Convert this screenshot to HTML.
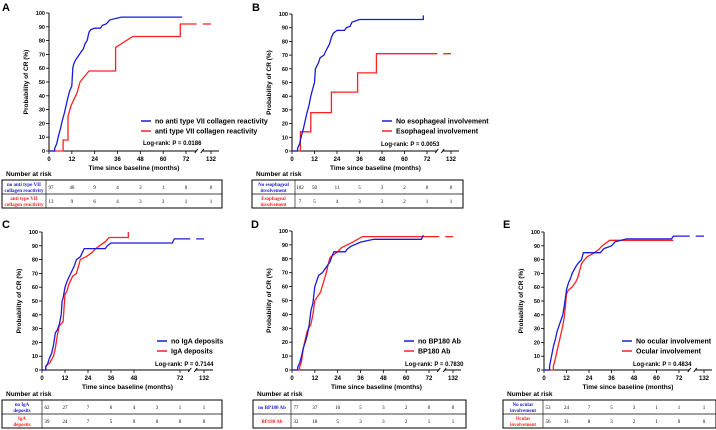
<!DOCTYPE html>
<html><head><meta charset="utf-8"><style>
html,body{margin:0;padding:0;background:#fff;}
svg{display:block;font-family:"Liberation Sans",Arial,sans-serif;}
</style></head><body>
<svg id="fig" width="716" height="430" viewBox="0 0 716 430"></svg>
<script>
const NS="http://www.w3.org/2000/svg";
const svg=document.getElementById('fig');
// ---- data ----
const yTicks=[0,10,20,30,40,50,60,70,80,90,100];
const xTicksFull=[0,12,24,36,48,60,72,132];
const xTicksC=[0,12,24,36,48,72,132];
const riskColsA=["97","46","9","4","3","1","0","0"];
const riskColsA2=["13","9","6","4","3","3","1","1"];
const riskColsB=["102","50","11","5","3","2","0","0"];
const riskColsB2=["7","5","4","3","3","2","1","1"];
const riskColsC=["62","27","7","6","4","3","1","1"];
const riskColsC2=["39","24","7","5","0","0","0","0"];
const riskColsD=["77","37","10","5","3","2","0","0"];
const riskColsD2=["32","18","5","3","3","2","1","1"];
const riskColsE=["53","24","7","5","3","1","1","1"];
const riskColsE2=["56","31","8","3","2","1","0","0"];
const curveA1=[[0,0],[3,0],[3,2],[4,5],[5,11],[6,16],[7,22],[8,27],[9,33],[10,39],[11,44],[12,47],[12.5,60],[13,63],[14,66],[15,68],[17,72],[18,74],[19,78],[20,80],[21,86],[22,88],[24,89],[27,89],[28,91],[30,92],[32,95],[38,97],[70,97]];
const curveA2=[[0,0],[7.4,0],[7.4,8],[10,8],[10,25],[11.6,33],[14.7,42],[16.3,50],[21,58],[35,58],[35,75],[44,83],[69,83],[69,92],[132,92]];
const curveB1=[[0,0],[3,0],[3,2],[4,5],[5,11],[6,16],[7,22],[8,28],[9,33],[10,40],[11,45],[12,50],[12.5,60],[14,64],[15,68],[17,70],[18,73],[20,78],[21,83],[22,86],[24,88],[28,88],[29,90],[31,91],[32,94],[36,96],[70,96],[70,99]];
const curveB2=[[0,0],[4.5,0],[4.5,14],[10,14],[10,28],[21,28],[21,43],[35,43],[35,57],[45,57],[45,71],[132,71]];
const curveC1=[[0,0],[2,0],[2,2],[3,5],[4,9],[5,12],[6,18],[7,27],[8,29],[9,33],[10,40],[10.5,50],[11,52],[12,60],[13,64],[14,67],[15,70],[17,76],[18,80],[20,82],[21,85],[22,88],[33,88],[34,90],[36,92],[68,92],[69,95],[132,95]];
const curveC2=[[0,0],[2,0],[2,3],[4,5],[6,10],[7,16],[8,25],[9,32],[11,35],[12,55],[13,57],[14,62],[16,68],[18,70],[19,75],[20,80],[23,82],[26,85],[28,88],[30,90],[33,93],[35,96],[45,96],[45,100]];
const curveD1=[[0,0],[3,0],[3,2],[4,5],[5,10],[6,16],[7,20],[8,25],[9,32],[10,43],[11,48],[12,60],[13,64],[14,68],[16,70],[17,72],[18,74],[20,78],[21,82],[22,85],[28,85],[29,87],[31,89],[36,92],[43,94],[68,94],[69,97]];
const curveD2=[[0,0],[4,0],[4,2],[5,6],[6,16],[7,22],[8,28],[10,33],[11,40],[12,50],[13,52],[15,56],[17,65],[18,70],[19,76],[20,81],[24,85],[26,88],[32,92],[37,96],[132,96]];
const curveE1=[[0,0],[3,0],[3,3],[4,10],[5,17],[6,22],[7,28],[8,32],[10,40],[11,48],[12,58],[13,63],[14,66],[15,70],[17,75],[18,77],[20,80],[21,85],[30,85],[32,88],[36,90],[38,93],[44,95],[68,95],[69,97],[132,97]];
const curveE2=[[0,0],[5,0],[5,3],[6,8],[7,14],[8,20],[9,26],[10,32],[11,40],[12,55],[13,58],[15,60],[17,64],[18,67],[20,77],[21,79],[23,82],[27,85],[29,87],[31,90],[35,94],[69,94]];

const BLUE="#1a1adb", RED="#ff2020";
function el(tag,attrs,parent){const e=document.createElementNS(NS,tag);for(const k in attrs)e.setAttribute(k,attrs[k]);(parent||svg).appendChild(e);return e;}
function txt(s,x,y,attrs,parent){const t=el('text',Object.assign({x:x,y:y},attrs),parent);t.textContent=s;return t;}

const panels=[
 {id:'a',letter:'A',lx:2,ly:11,x0:49,x72:186,x132:211,xend:219,yT:13,yB:151,ticks:xTicksFull,c1:curveA1,c2:curveA2,
  leg1:"no anti type VII collagen reactivity",leg2:"anti type VII collagen reactivity",legX:141,legY:121,lr:"Log-rank: P = 0.0186",lrX:143,lrY:145,
  tx:2,tw:220,ty:180,lab1:["no anti type VII","collagen reactivity"],lab2:["anti type VII","collagen reactivity"],r1:riskColsA,r2:riskColsA2,labW:44},
 {id:'b',letter:'B',lx:252,ly:11,x0:292,x72:427,x132:451,xend:459,yT:14,yB:151,ticks:xTicksFull,c1:curveB1,c2:curveB2,
  leg1:"No esophageal involvement",leg2:"Esophageal involvement",legX:382,legY:121,lr:"Log-rank: P = 0.0053",lrX:381,lrY:146,
  tx:252,tw:211,ty:180,lab1:["No esophageal","involvement"],lab2:["Esophageal","involvement"],r1:riskColsB,r2:riskColsB2,labW:43},
 {id:'c',letter:'C',lx:2,ly:228,x0:42,x72:180,x132:204,xend:213,yT:232,yB:370,ticks:xTicksC,c1:curveC1,c2:curveC2,
  leg1:"no IgA deposits",leg2:"IgA deposits",legX:157,legY:341,lr:"Log-rank: P = 0.7144",lrX:155,lrY:366,
  tx:2,tw:220,ty:400,lab1:["no IgA","deposits"],lab2:["IgA","deposits"],r1:riskColsC,r2:riskColsC2,labW:40},
 {id:'d',letter:'D',lx:251,ly:228,x0:292,x72:429,x132:453,xend:461,yT:231,yB:370,ticks:xTicksFull,c1:curveD1,c2:curveD2,
  leg1:"no BP180 Ab",leg2:"BP180 Ab",legX:404,legY:341,lr:"Log-rank: P = 0.7830",lrX:405,lrY:366,
  tx:253,tw:213,ty:400,lab1:["no BP180 Ab"],lab2:["BP180 Ab"],r1:riskColsD,r2:riskColsD2,labW:38},
 {id:'e',letter:'E',lx:503,ly:228,x0:544,x72:679,x132:704,xend:712,yT:232,yB:370,ticks:xTicksFull,c1:curveE1,c2:curveE2,
  leg1:"No ocular involvement",leg2:"Ocular involvement",legX:622,legY:341,lr:"Log-rank: P = 0.4834",lrX:633,lrY:366,
  tx:503,tw:213,ty:400,lab1:["No ocular","involvement"],lab2:["Ocular","involvement"],r1:riskColsE,r2:riskColsE2,labW:40}
];

panels.forEach(p=>{
  const g=el('g',{});
  
  
  const X=t=> t<=72 ? p.x0+(p.x72-p.x0)*t/72 : p.x72+(p.x132-p.x72)*(t-72)/60;
  const Y=v=> p.yB-(p.yB-p.yT)*v/100;
  const brk=p.x72+(p.x132-p.x72)*0.55;
  const pl=txt(p.letter,p.lx,p.ly,{'font-size':'11','font-weight':'bold'},g);
  
  
  const ya=el('line',{x1:p.x0,y1:p.yT,x2:p.x0,y2:p.yB,stroke:'#000','stroke-width':'1'},g);
  
  
  yTicks.forEach(v=>{
    el('line',{x1:p.x0-3,y1:Y(v),x2:p.x0,y2:Y(v),stroke:'#000','stroke-width':'0.8'},g);
    const t=txt(String(v),p.x0-4,Y(v)+2,{'font-size':'5.5','font-weight':'bold','text-anchor':'end'},g);
    
    
  });
  const yt=txt("Probability of CR (%)",0,0,{'font-size':'6.5','font-weight':'bold','text-anchor':'middle',transform:`translate(${p.x0-21},${(p.yT+p.yB)/2}) rotate(-90)`},g);
  
  
  const xa=el('path',{d:`M${p.x0},${p.yB}H${brk-3}M${brk+3},${p.yB}H${p.xend}M${brk-5},${p.yB+2}l3,-4M${brk+1},${p.yB+2}l3,-4`,stroke:'#000','stroke-width':'1',fill:'none'},g);
  
  
  p.ticks.forEach(t=>{
    el('line',{x1:X(t),y1:p.yB,x2:X(t),y2:p.yB+3,stroke:'#000','stroke-width':'0.8'},g);
    const l=txt(String(t),X(t),p.yB+10,{'font-size':'6','font-weight':'bold','text-anchor':'middle'},g);
    
    
  });
  const xt=txt("Time since baseline (months)",(p.x0+p.xend)/2,p.yB+19,{'font-size':'6.5','font-weight':'bold','text-anchor':'middle'},g);
  
  
  [[p.c2,RED,'curve-2'],[p.c1,BLUE,'curve-1']].forEach(([c,col,nm])=>{
    let d='';
    c.forEach((pt,i)=>{d+=(i?'L':'M')+X(pt[0]).toFixed(1)+','+Y(pt[1]).toFixed(1);});
    const path=el('path',{d:d,stroke:col,'stroke-width':'1.3',fill:'none'},g);
    
    
  });
  el('rect',{x:brk-3,y:p.yT-2,width:6,height:p.yB-p.yT-2,fill:'#fff'},g);
  [[p.leg1,BLUE],[p.leg2,RED]].forEach(([s,col],i)=>{
    const ly=p.legY+i*10;
    el('line',{x1:p.legX,y1:ly,x2:p.legX+10,y2:ly,stroke:col,'stroke-width':'1.5'},g);
    const lt=txt(s,p.legX+14,ly+2.5,{'font-size':'7','font-weight':'bold'},g);
    
    
  });
  const lr=txt(p.lr,p.lrX,p.lrY,{'font-size':'6','font-weight':'bold'},g);
  
  
  const nr=txt("Number at risk",p.tx+4,p.ty-4,{'font-size':'6.5','font-weight':'bold'},g);
  
  
  const tb=el('rect',{x:p.tx,y:p.ty,width:p.tw,height:28,fill:'none',stroke:'#000','stroke-width':'1'},g);
  
  
  el('line',{x1:p.tx,y1:p.ty+14,x2:p.tx+p.tw,y2:p.ty+14,stroke:'#000','stroke-width':'0.8'},g);
  el('line',{x1:p.tx+p.labW,y1:p.ty,x2:p.tx+p.labW,y2:p.ty+28,stroke:'#000','stroke-width':'0.6'},g);
  [[p.lab1,BLUE,p.r1],[p.lab2,RED,p.r2]].forEach(([lab,col,vals],i)=>{
    const cy=p.ty+7+i*14;
    lab.forEach((s,j)=>{
      const yy=cy+2+(j-(lab.length-1)/2)*6;
      const t=txt(s,p.tx+p.labW/2,yy,{'font-size':'5','font-weight':'bold',fill:col,'text-anchor':'middle','font-family':'"Liberation Serif",serif'},g);
      
      
    });
    vals.forEach((v,k)=>{
      const tk=xTicksFull[k];
      let vx=X(tk); if(k===0) vx=p.tx+p.labW+5;
      const t=txt(v,vx,cy+2,{'font-size':'5','text-anchor':'middle','font-family':'"Liberation Serif",serif'},g);
      
      
    });
  });
});
</script>
</body></html>
